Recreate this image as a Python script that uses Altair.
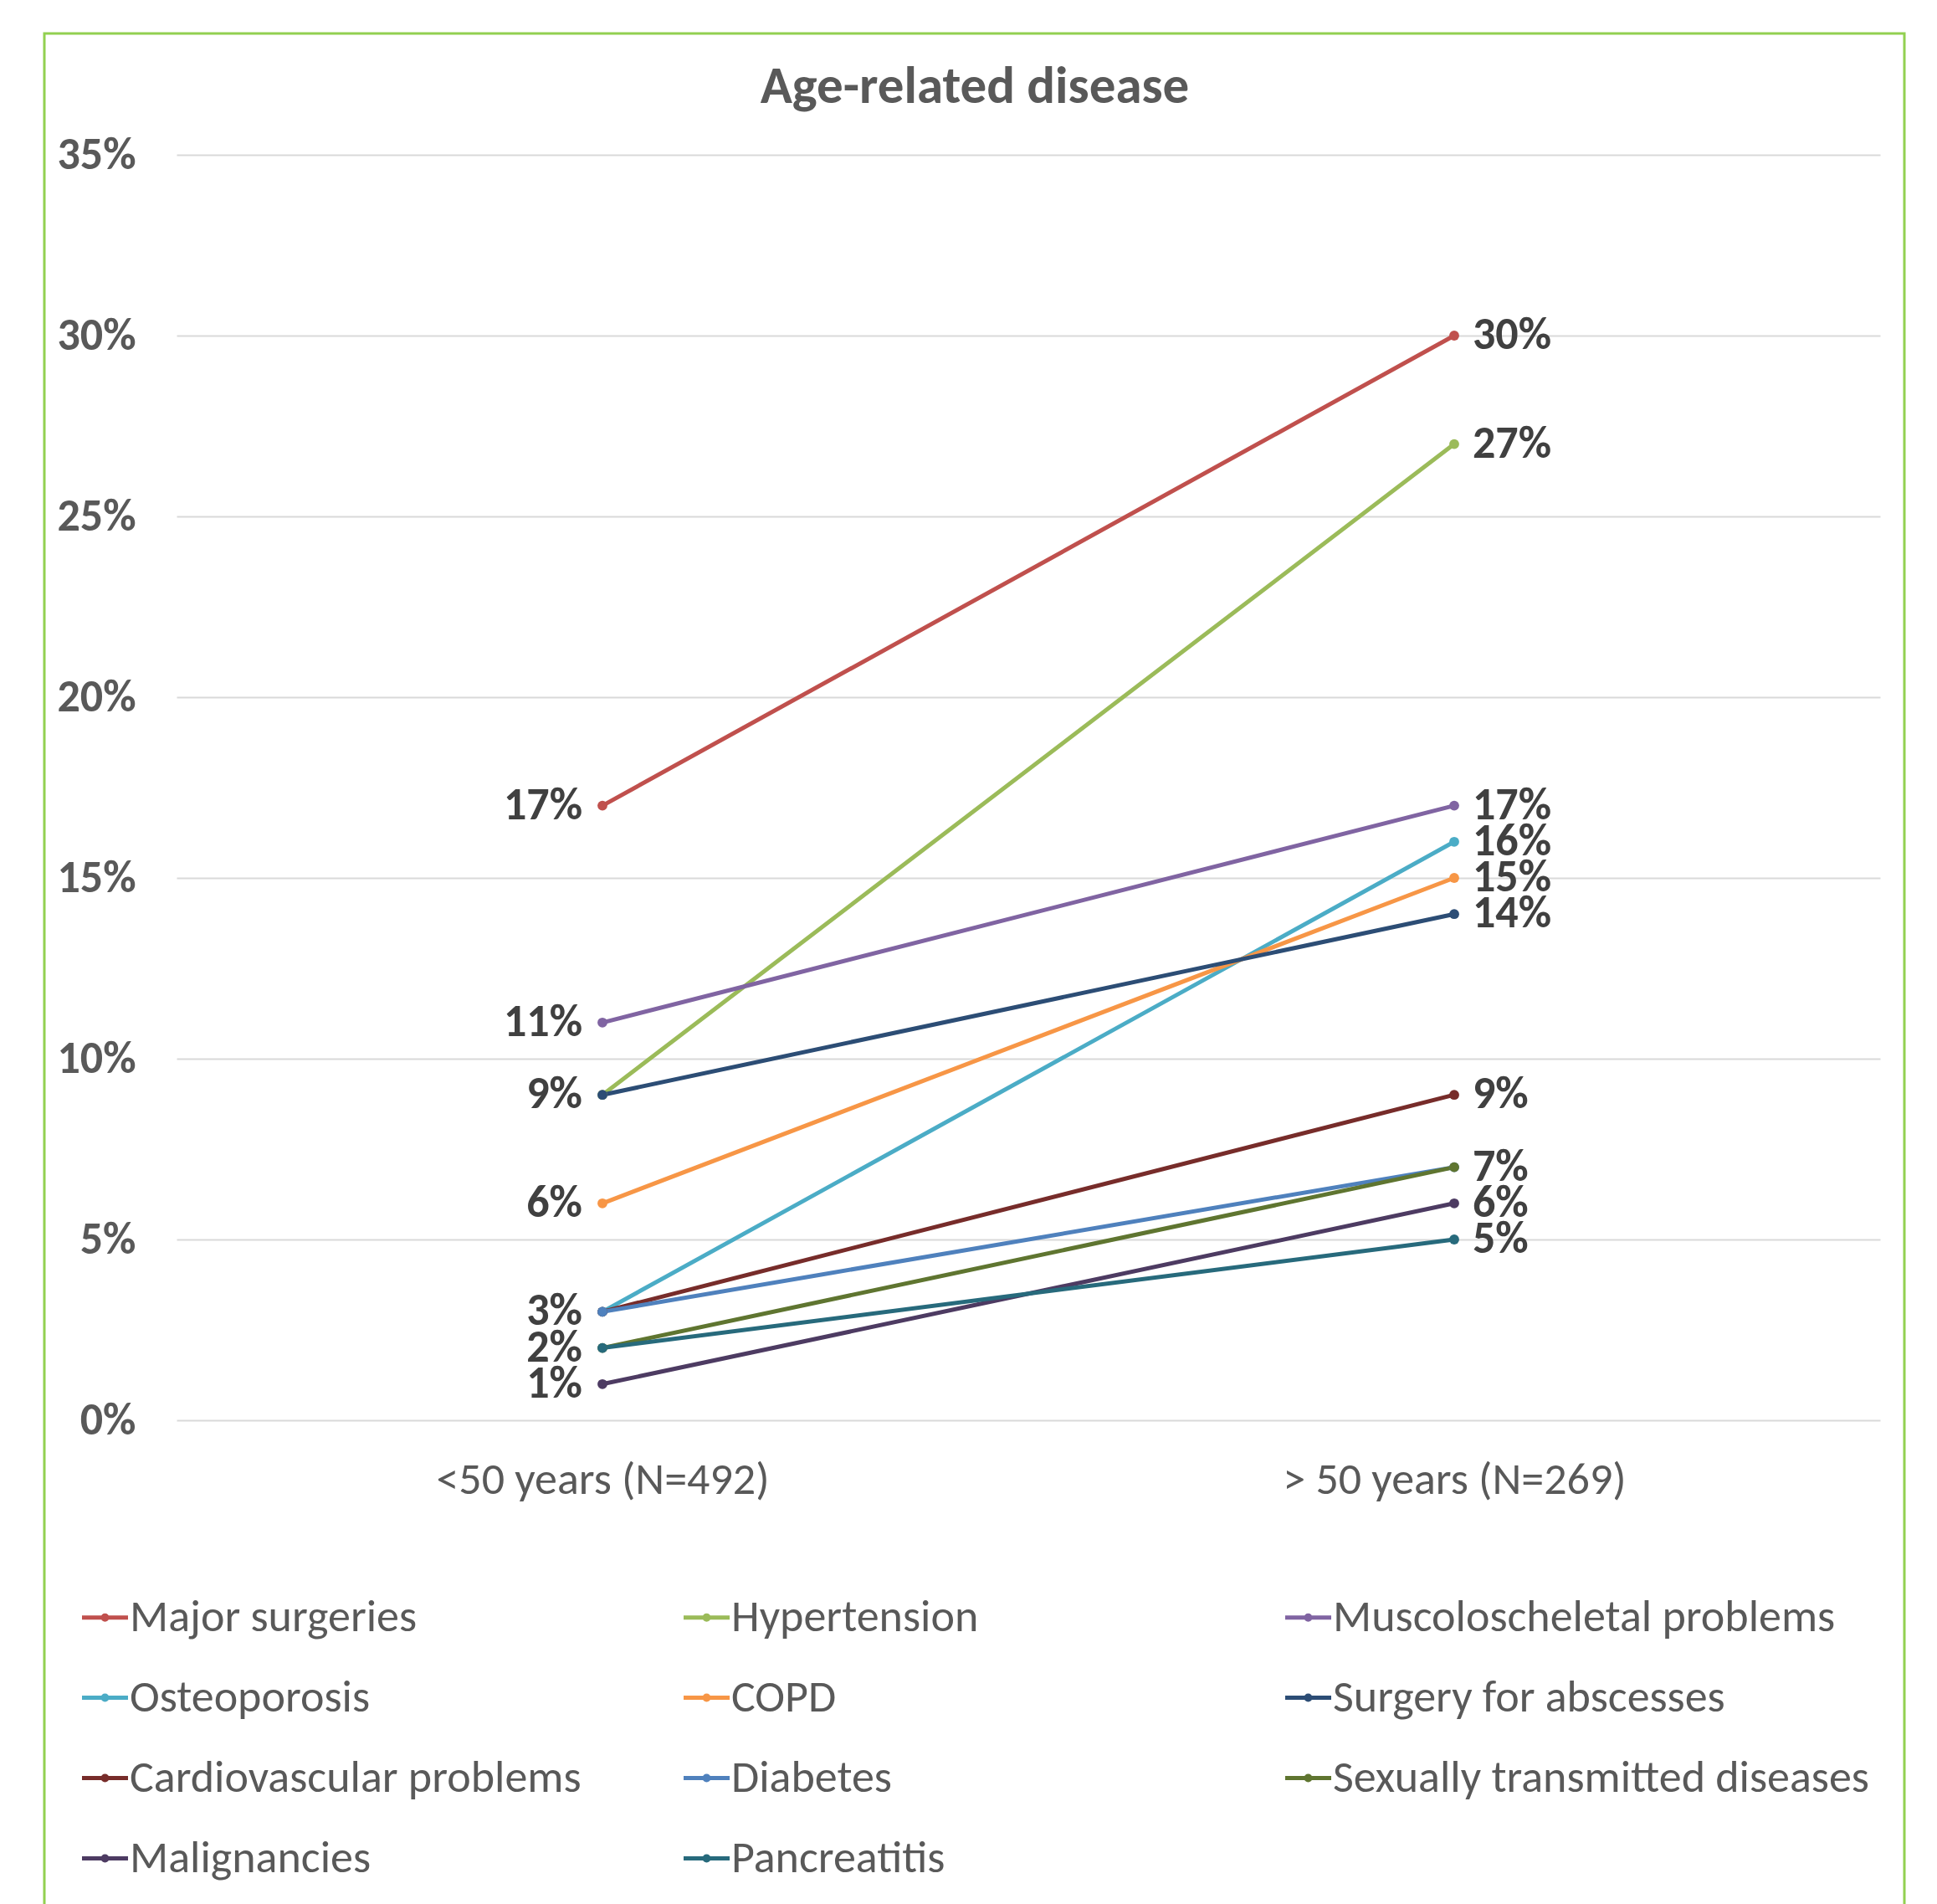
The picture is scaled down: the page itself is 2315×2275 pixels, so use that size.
import altair as alt
import pandas as pd

categories = ["<50 years (N=492)", "> 50 years (N=269)"]
series = [
    "Major surgeries", "Hypertension", "Muscoloscheletal problems",
    "Osteoporosis", "COPD", "Surgery for abscesses",
    "Cardiovascular problems", "Diabetes", "Sexually transmitted diseases",
    "Malignancies", "Pancreatitis",
]
under50 = [17, 9, 11, 3, 6, 9, 3, 3, 2, 1, 2]
over50 = [30, 27, 17, 16, 15, 14, 9, 7, 7, 6, 5]
colors = [
    "#C0504D", "#9BBB59", "#8064A2", "#4BACC6", "#F79646", "#2C4D75",
    "#772C2A", "#4F81BD", "#5F7530", "#4D3B62", "#276A7C",
]
y_ticks = [0, 0.05, 0.10, 0.15, 0.20, 0.25, 0.30, 0.35]

rows = []
for i, s in enumerate(series):
    rows.append({"series": s, "cat": categories[0], "v": under50[i] / 100, "order": i})
    rows.append({"series": s, "cat": categories[1], "v": over50[i] / 100, "order": i})
df = pd.DataFrame(rows)

FONT = "Carlito, Calibri, Lato, sans-serif"
FS = 54

x_enc = alt.X(
    "cat:N", sort=categories, title=None,
    scale=alt.Scale(type="point", padding=0.5),
    axis=alt.Axis(domain=False, ticks=False, labelAngle=0, labelFont=FONT,
                  labelFontSize=FS, labelColor="#595959", labelPadding=44,
                  grid=False, labelFontWeight="normal", labelLimit=1000),
)
y_enc = alt.Y(
    "v:Q", title=None,
    scale=alt.Scale(domain=[0, 0.35], nice=False, zero=True),
    axis=alt.Axis(values=y_ticks, format=".0%", domain=False, ticks=False,
                  labelFont=FONT, labelFontSize=FS, labelFontWeight="bold",
                  labelColor="#595959", labelPadding=49, gridColor="#D9D9D9",
                  gridWidth=2),
)
color_enc = alt.Color(
    "series:N", title=None,
    scale=alt.Scale(domain=series, range=colors),
    legend=alt.Legend(
        orient="none", legendX=-113, legendY=1720, columns=3, gridAlign="all",
        direction="horizontal",
        columnPadding=11, rowPadding=41, padding=0,
        symbolType="M-1.1,0H1.1M-0.1,0A0.1,0.1,0,1,0,0.1,0A0.1,0.1,0,1,0,-0.1,0Z",
        symbolSize=2500, symbolStrokeWidth=5, labelOffset=2,
        labelFont=FONT, labelFontSize=FS, labelColor="#595959", labelLimit=0,
    ),
)

border = alt.Chart(pd.DataFrame({"a": [0]})).mark_rect(
    fillOpacity=0, stroke="#92D050", strokeWidth=3
).encode(x=alt.value(-158), x2=alt.value(2065), y=alt.value(-145), y2=alt.value(2300))

base = alt.Chart(df)
lines = base.mark_line(strokeWidth=5, strokeCap="round",
                       point=alt.OverlayMarkDef(size=140, filled=True)).encode(
    x=x_enc, y=y_enc, color=color_enc, order="order:Q", detail="series:N"
)
label_base = base.transform_aggregate(n="count()", groupby=["cat", "v"])
left_labels = label_base.transform_filter(alt.datum.cat == categories[0]).mark_text(
    align="right", baseline="middle", dx=-24, font=FONT, fontSize=FS,
    fontWeight="bold", color="#404040"
).encode(x=alt.X("cat:N", sort=categories), y="v:Q", text=alt.Text("v:Q", format=".0%"))
right_labels = label_base.transform_filter(alt.datum.cat == categories[1]).mark_text(
    align="left", baseline="middle", dx=22, font=FONT, fontSize=FS,
    fontWeight="bold", color="#404040"
).encode(x=alt.X("cat:N", sort=categories), y="v:Q", text=alt.Text("v:Q", format=".0%"))

chart = alt.layer(border, lines, left_labels, right_labels).properties(
    width=2036, height=1512,
    padding={"left": 211, "top": 185, "right": 68, "bottom": 579},
    autosize=alt.AutoSizeParams(type="none"),
    background="white",
    title=alt.TitleParams("Age-related disease", font=FONT, fontSize=63,
                          fontWeight="bold", color="#595959", anchor="middle",
                          frame="group", dx=-64, offset=-147, baseline="alphabetic"),
).configure_view(stroke=None)

chart.save("out.html", embed_options={"renderer": "svg", "actions": False})
